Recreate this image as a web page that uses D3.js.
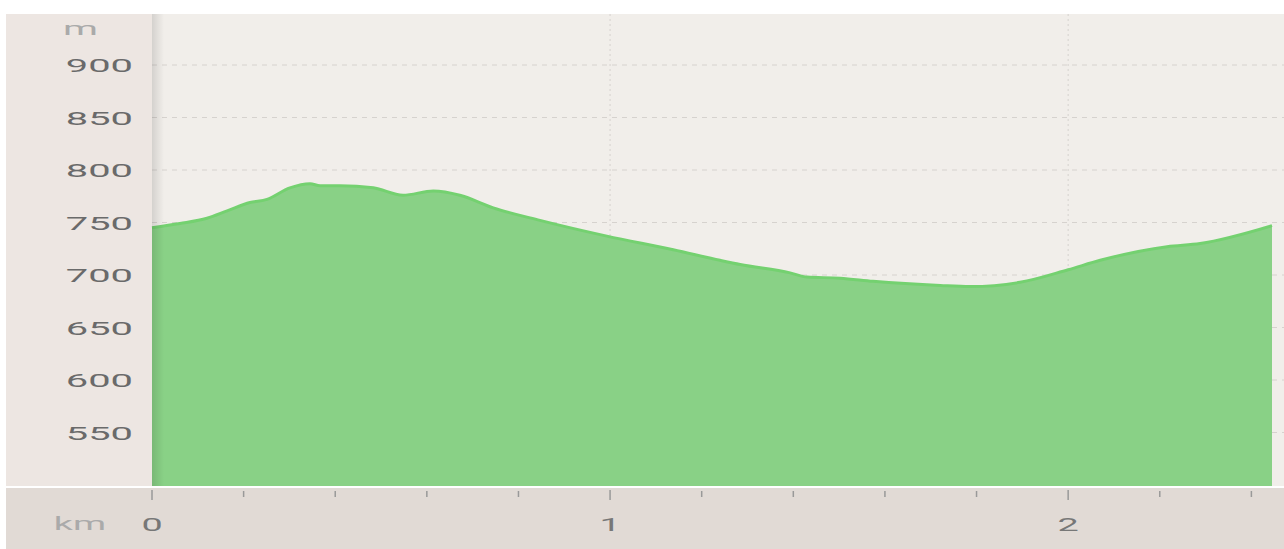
<!DOCTYPE html>
<html>
<head>
    <meta charset="utf-8">
    <title>Elevation profile</title>
    <script src="https://d3js.org/d3.v7.min.js"></script>
    <style>
        body { margin: 0; background: #fff; }
        text { font-family: Roboto, "Noto Sans", sans-serif; }
    </style>
</head>
<body>
    <svg id="chart" width="1284" height="549"></svg>
    <script>
        // distance along the track (km) and elevation (m)
        const distKm = [0, 0.061, 0.120, 0.164, 0.214, 0.251, 0.301, 0.345, 0.367, 0.410, 0.483, 0.548, 0.614, 0.672,
            0.745, 0.847, 0.993, 1.138, 1.240, 1.284, 1.393, 1.430, 1.502, 1.574, 1.721, 1.786, 1.895, 2.000,
            2.070, 2.216, 2.288, 2.445];
        const elevM = [745, 749, 754, 761, 769, 772, 783, 787, 785, 785, 783, 776, 780, 776,
            764, 752, 737, 724, 714, 710, 702, 698, 697, 694, 690, 689, 693, 705,
            714, 727, 730, 747];
        const yTicks = [550, 600, 650, 700, 750, 800, 850, 900];
        const xMajor = [0, 1, 2];
        const xMinor = [0.2, 0.4, 0.6, 0.8, 1.2, 1.4, 1.6, 1.8, 2.2, 2.4];

        const svg = d3.select("#chart");
        const plotL = 152, plotR = 1272, plotT = 14, plotB = 486;
        const sx = 2.1; // the labels are drawn stretched sideways

        const x = d3.scaleLinear().domain([0, 2.445]).range([plotL, plotR]);
        const y = d3.scaleLinear().domain([500, 900]).range([485, 65]);

        const data = distKm.map((d, i) => ({ d: d, e: elevM[i] }));

        // backgrounds
        svg.append("rect").attr("x", 6).attr("y", plotT).attr("width", plotL - 6).attr("height", plotB - plotT)
            .attr("fill", "#ede6e2");
        svg.append("rect").attr("x", plotL).attr("y", plotT).attr("width", 1284 - plotL).attr("height", plotB - plotT)
            .attr("fill", "#f1eeea");
        svg.append("rect").attr("x", 6).attr("y", 488).attr("width", 1278).attr("height", 61)
            .attr("fill", "#e1dad5");

        // grid
        svg.append("g").selectAll("line").data(yTicks).join("line")
            .attr("x1", plotL).attr("x2", 1284)
            .attr("y1", d => y(d)).attr("y2", d => y(d))
            .attr("stroke", "#d6d2ce").attr("stroke-width", 1).attr("stroke-dasharray", "5,5");
        svg.append("g").selectAll("line").data(xMajor.slice(1)).join("line")
            .attr("x1", d => x(d)).attr("x2", d => x(d))
            .attr("y1", plotT).attr("y2", plotB)
            .attr("stroke", "#d6d2ce").attr("stroke-width", 1).attr("stroke-dasharray", "2,3");

        // area
        const area = d3.area().x(d => x(d.d)).y0(plotB).y1(d => y(d.e)).curve(d3.curveMonotoneX);
        const line = d3.line().x(d => x(d.d)).y(d => y(d.e)).curve(d3.curveMonotoneX);
        svg.append("path").datum(data).attr("d", area).attr("fill", "#89d186");
        svg.append("path").datum(data).attr("d", line).attr("fill", "none")
            .attr("stroke", "#74d170").attr("stroke-width", 3);

        // shadow on the left edge of the plot
        const defs = svg.append("defs");
        const grad = defs.append("linearGradient").attr("id", "shade");
        grad.append("stop").attr("offset", "0%").attr("stop-color", "#000").attr("stop-opacity", 0.12);
        grad.append("stop").attr("offset", "100%").attr("stop-color", "#000").attr("stop-opacity", 0);
        svg.append("rect").attr("x", plotL).attr("y", plotT).attr("width", 12).attr("height", plotB - plotT)
            .attr("fill", "url(#shade)");

        // separator line
        svg.append("line").attr("x1", 6).attr("x2", 1284).attr("y1", 487).attr("y2", 487)
            .attr("stroke", "#fff").attr("stroke-width", 2);

        // y labels
        svg.append("g").selectAll("text").data(yTicks).join("text")
            .attr("transform", d => `translate(133,${y(d) + 7}) scale(${sx},1)`)
            .attr("text-anchor", "end").attr("font-size", 19).attr("fill", "#6a6a6a")
            .text(d => d);
        svg.append("text").attr("transform", `translate(63,35) scale(${sx},1)`)
            .attr("font-size", 19).attr("fill", "#aaa").text("m");

        // x ticks
        svg.append("g").selectAll("line").data(xMajor).join("line")
            .attr("x1", d => x(d)).attr("x2", d => x(d)).attr("y1", 490).attr("y2", 500)
            .attr("stroke", "#999").attr("stroke-width", 1.5);
        svg.append("g").selectAll("line").data(xMinor).join("line")
            .attr("x1", d => x(d)).attr("x2", d => x(d)).attr("y1", 491).attr("y2", 497)
            .attr("stroke", "#999").attr("stroke-width", 1.5);
        svg.append("g").selectAll("text").data(xMajor).join("text")
            .attr("transform", d => `translate(${x(d)},531) scale(${sx},1)`)
            .attr("text-anchor", "middle").attr("font-size", 18).attr("fill", "#777")
            .text(d => d);
        svg.append("text").attr("transform", `translate(80,530) scale(${sx},1)`)
            .attr("text-anchor", "middle").attr("font-size", 18).attr("fill", "#aaa").text("km");
    </script>
</body>
</html>
